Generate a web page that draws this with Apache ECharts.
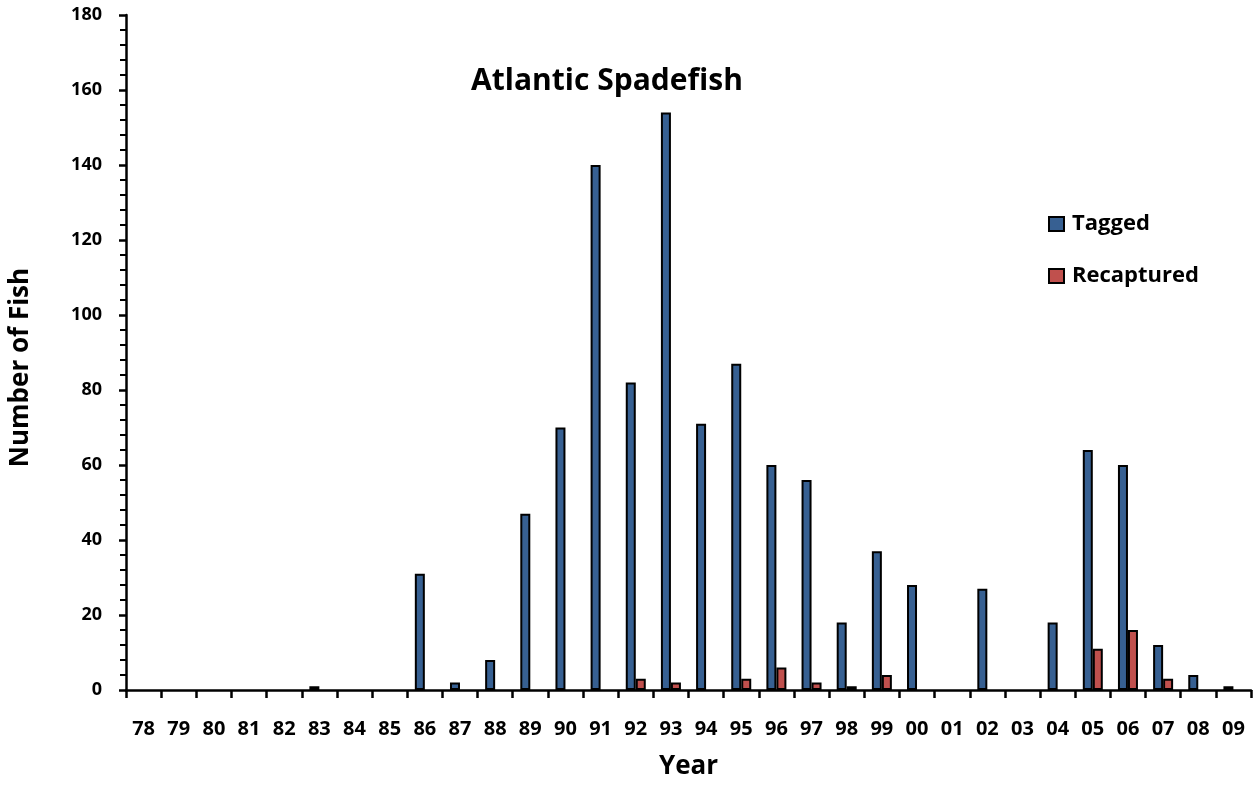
<!DOCTYPE html>
<html><head><meta charset="utf-8">
<script src="https://cdn.jsdelivr.net/npm/echarts@6/dist/echarts.min.js"></script>
<style>html,body{margin:0;padding:0;background:#fff}#c{width:1253px;height:785px}</style>
</head><body><div id="c"></div>
<script>
const years = ['78','79','80','81','82','83','84','85','86','87','88','89','90','91','92','93','94','95','96','97','98','99','00','01','02','03','04','05','06','07','08','09'];
const tagged =     [0,0,0,0,0,1,0,0,31,2,8,47,70,140,82,154,71,87,60,56,18,37,28,0,27,0,18,64,60,12,4,1];
const recaptured = [0,0,0,0,0,0,0,0,0,0,0,0,0,0,3,2,0,3,6,2,1,4,0,0,0,0,0,11,16,3,0,0];
const yTicks = {min:0, max:180, interval:20};

// zero-height bars are not drawn (no border stub)
const hideZero = arr => arr.map(v => v === 0 ? '-' : v);

const F = '"Open Sans", "Liberation Sans", sans-serif';
const chart = echarts.init(document.getElementById('c'));
chart.setOption({
  animation:false,
  backgroundColor:'#fff',
  title:{text:'Atlantic Spadefish', left:602, top:61, textAlign:'center',
    textStyle:{fontFamily:F, fontWeight:'bold', fontSize:30, color:'#000'}},
  legend:{orient:'vertical', left:1043, top:208, itemWidth:15, itemHeight:14, itemGap:30,
    icon:'rect',
    textStyle:{fontFamily:F, fontWeight:'bold', fontSize:22, lineHeight:22, color:'#000', padding:[0,0,0,3]},
    data:['Tagged','Recaptured']},
  grid:{left:125, right:2, top:15, bottom:89, containLabel:false},
  xAxis:{type:'category', data:years, name:'Year', nameLocation:'middle', nameGap:64,
    nameTextStyle:{fontFamily:F, fontWeight:'bold', fontSize:26, color:'#000'},
    axisLine:{lineStyle:{color:'#000', width:2.5}},
    axisTick:{show:true, alignWithLabel:false, length:8, lineStyle:{color:'#000', width:2.5}},
    axisLabel:{fontFamily:F, fontWeight:'bold', fontSize:20, color:'#000', margin:29}},
  yAxis:{type:'value', min:yTicks.min, max:yTicks.max, interval:yTicks.interval,
    name:'Number of Fish', nameLocation:'middle', nameGap:92, nameRotate:90,
    nameTextStyle:{fontFamily:F, fontWeight:'bold', fontSize:26, color:'#000', padding:[0,30,0,0]},
    axisLine:{show:true, lineStyle:{color:'#000', width:2.5}},
    axisTick:{show:true, length:7, lineStyle:{color:'#000', width:2.5}},
    minorTick:{show:true, splitNumber:5, length:6, lineStyle:{color:'#000', width:2}},
    splitLine:{show:false},
    axisLabel:{fontFamily:F, fontWeight:'bold', fontSize:18, color:'#000', margin:24}},
  series:[
    {name:'Tagged', type:'bar', data:hideZero(tagged), barWidth:10, barGap:'0%',
      itemStyle:{color:'#376092', borderColor:'#000', borderWidth:2}},
    {name:'Recaptured', type:'bar', data:hideZero(recaptured), barWidth:10,
      itemStyle:{color:'#c0504d', borderColor:'#000', borderWidth:2}}
  ]
});
</script></body></html>
